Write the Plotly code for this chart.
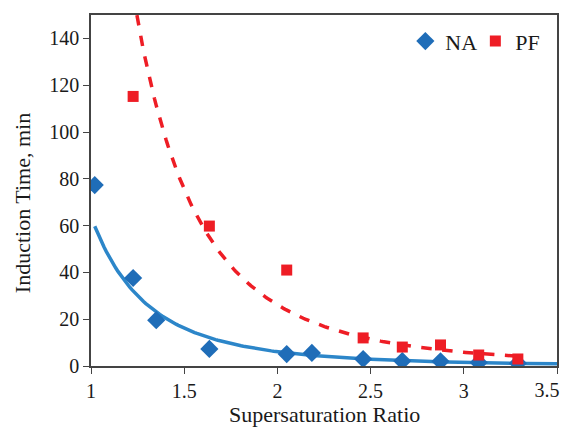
import numpy as np
import plotly.graph_objects as go

na_x = [1.02, 1.226, 1.35, 1.635, 2.05, 2.185, 2.46, 2.67, 2.875, 3.08, 3.29]
na_y = [77.3, 37.6, 19.6, 7.3, 5.1, 5.6, 3.0, 2.1, 2.0, 1.5, 1.2]
pf_x = [1.226, 1.635, 2.05, 2.46, 2.67, 2.875, 3.08, 3.29]
pf_y = [115.2, 59.8, 41.0, 12.0, 8.1, 9.0, 4.7, 3.0]

x_ticks = [1, 1.5, 2, 2.5, 3, 3.5]
x_tick_labels = ["1", "1.5", "2", "2.5", "3", "3.5"]
y_ticks = [0, 20, 40, 60, 80, 100, 120, 140]

def power_fit(x, y):
    b, lna = np.polyfit(np.log(x), np.log(y), 1)
    return np.exp(lna), b

a1, b1 = power_fit(na_x, na_y)
a2, b2 = power_fit(pf_x, pf_y)
fx1 = np.linspace(min(na_x), 3.5, 200)
fy1 = a1 * fx1 ** b1
fx2 = np.linspace(min(pf_x), max(pf_x), 200)
fy2 = a2 * fx2 ** b2

BLUE_M = "#1F6DB8"
BLUE_L = "#2C86C9"
RED = "#EE1D25"
FONT = "Liberation Serif"
AX = "#444444"

fig = go.Figure()
fig.add_trace(go.Scatter(x=fx1, y=fy1, mode="lines", line=dict(color=BLUE_L, width=3.5),
                         showlegend=False, hoverinfo="skip"))
fig.add_trace(go.Scatter(x=fx2, y=fy2, mode="lines", line=dict(color=RED, width=3.5, dash="dash"),
                         showlegend=False, hoverinfo="skip"))
fig.add_trace(go.Scatter(x=na_x, y=na_y, mode="markers", name="NA",
                         marker=dict(symbol="diamond", size=14, color=BLUE_M)))
fig.add_trace(go.Scatter(x=pf_x, y=pf_y, mode="markers", name="PF",
                         marker=dict(symbol="square", size=11, color=RED)))
# empty helper trace so the overlay axis (carrying the last tick label) is drawn
fig.add_trace(go.Scatter(x=[], y=[], xaxis="x2", yaxis="y", showlegend=False, hoverinfo="skip"))

fig.update_layout(
    width=561, height=419,
    margin=dict(l=83, r=12, t=7, b=61),
    paper_bgcolor="white", plot_bgcolor="white",
    font=dict(family=FONT, size=20, color="#1a1a1a"),
    legend=dict(orientation="h", x=0.975, xanchor="right", y=0.985, yanchor="top",
                bgcolor="rgba(0,0,0,0)", font=dict(size=22), itemwidth=30,
                entrywidth=25, entrywidthmode="pixels", tracegroupgap=0),
    annotations=[
        dict(text="Induction Time, min", xref="paper", yref="paper",
             x=-0.148, y=0.464, xanchor="center", yanchor="middle",
             textangle=-90, showarrow=False, font=dict(size=22)),
        dict(text="Supersaturation Ratio", xref="paper", yref="paper",
             x=0.5, y=-0.137, xanchor="center", yanchor="middle",
             showarrow=False, font=dict(size=22)),
    ],
    xaxis2=dict(overlaying="x", anchor="y", side="bottom", range=[1, 3.5],
                tickvals=x_ticks[-1:], ticktext=x_tick_labels[-1:],
                ticks="outside", ticklen=6, tickcolor="rgba(0,0,0,0)",
                ticklabelshift=-10, ticklabeloverflow="allow", automargin=False,
                showgrid=False, zeroline=False, showline=False,
                tickfont=dict(family=FONT, size=20, color="#1a1a1a")),
    xaxis=dict(range=[1, 3.5], tickvals=x_ticks, ticktext=x_tick_labels[:-1] + [""],
               automargin=False, ticklabeloverflow="allow",
               showgrid=False, zeroline=False, showline=True, linecolor=AX, linewidth=1.5,
               mirror=True, ticks="outside", ticklen=6, tickcolor=AX),
)
fig.update_yaxes(range=[0, 150], tickvals=y_ticks, automargin=False,
                 showgrid=False, zeroline=False, showline=True, linecolor=AX, linewidth=1.5,
                 mirror=True, ticks="outside", ticklen=6, tickcolor=AX)

fig.write_html("out.html")
